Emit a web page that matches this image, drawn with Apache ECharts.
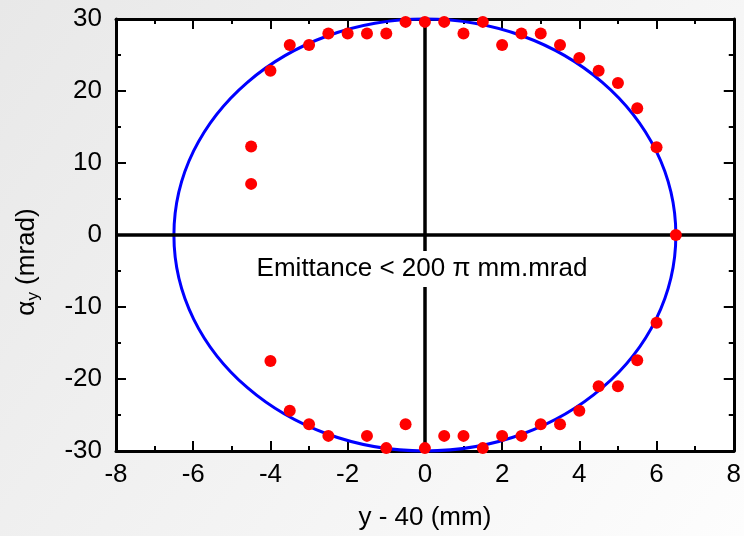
<!DOCTYPE html>
<html>
<head>
<meta charset="utf-8">
<script src="https://cdn.jsdelivr.net/npm/echarts@6/dist/echarts.min.js"></script>
<style>
html, body { margin: 0; padding: 0; }
#main { width: 744px; height: 536px; }
</style>
</head>
<body>
<div id="main"></div>
<script>
// measured beam points (y - 40 in mm, angle in mrad)
var beamX = [-4.5, -4.5, -4, -3.5, -3, -2.5, -2, -1.5, -1, -0.5, 0, 0.5, 1, 1.5, 2, 2.5, 3, 3.5, 4, 4.5, 5, 5.5, 6, 6.5,
             6, 5.5, 5, 4.5, 4, 3.5, 3, 2.5, 2, 1.5, 1, 0.5, 0, -0.5, -1, -1.5, -2.5, -3, -3.5, -4];
var beamY = [12.3, 7.1, 22.8, 26.4, 26.4, 28, 28, 28, 28, 29.6, 29.6, 29.6, 28, 29.6, 26.4, 28, 28, 26.4, 24.6, 22.8, 21.1, 17.6, 12.2, 0,
             -12.2, -17.4, -21, -21, -24.4, -26.3, -26.3, -27.9, -27.9, -29.6, -27.9, -27.9, -29.6, -26.3, -29.6, -27.9, -27.9, -26.3, -24.4, -17.5];
// fitted emittance ellipse: centre and semi-axes
var ellipseFit = [[0, 0, 6.5, 30]];
var noteText = 'Emittance < 200 \u03c0 mm.mrad';

var font = 'Liberation Sans, Arial, sans-serif';
var points = beamX.map(function (x, i) { return [x, beamY[i]]; });

function axisBase(min, max, step) {
    return {
        type: 'value',
        min: min,
        max: max,
        interval: step,
        axisLine: { show: true, onZero: false, lineStyle: { color: '#000', width: 3 } },
        axisTick: { show: true, inside: true, length: 10, lineStyle: { color: '#000', width: 2 } },
        minorTick: { show: true, splitNumber: 2, length: 5, lineStyle: { color: '#000', width: 2 } },
        splitLine: { show: false },
        axisLabel: { color: '#000', fontSize: 26, fontFamily: font }
    };
}

var xBottom = axisBase(-8, 8, 2);
xBottom.position = 'bottom';
xBottom.axisLabel.margin = 11;
xBottom.name = 'y - 40 (mm)';
xBottom.nameLocation = 'middle';
xBottom.nameGap = 54;
xBottom.nameTextStyle = { color: '#000', fontSize: 26, fontFamily: font };

var xTop = axisBase(-8, 8, 2);
xTop.position = 'top';
xTop.axisLabel.show = false;

var yLeft = axisBase(-30, 30, 10);
yLeft.position = 'left';
yLeft.axisLabel.margin = 14;
yLeft.name = '{a|\u03b1}{s|y}{a| (mrad)}';
yLeft.nameLocation = 'middle';
yLeft.nameRotate = 90;
yLeft.nameGap = 74;
yLeft.nameTextStyle = {
    color: '#000',
    fontFamily: font,
    padding: [0, 54, 0, 0],
    rich: {
        a: { fontSize: 26, fontFamily: font, color: '#000' },
        s: { fontSize: 17, fontFamily: font, color: '#000', padding: [13, 0, 0, 0] }
    }
};

var yRight = axisBase(-30, 30, 10);
yRight.position = 'right';
yRight.axisLabel.show = false;

echarts.init(document.getElementById('main')).setOption({
    backgroundColor: {
        type: 'linear', x: 0, y: 0, x2: 1, y2: 1,
        colorStops: [{ offset: 0, color: '#e8e8e8' }, { offset: 1, color: '#fdfdfd' }]
    },
    animation: false,
    grid: { left: 116, right: 9, top: 19, bottom: 84, show: true, backgroundColor: '#fff', borderWidth: 0 },
    xAxis: [xBottom, xTop],
    yAxis: [yLeft, yRight],
    graphic: [{
        type: 'text',
        x: 422,
        y: 269,
        z: 100,
        style: {
            text: noteText,
            font: '26px ' + font,
            fill: '#000',
            align: 'center',
            verticalAlign: 'middle',
            backgroundColor: '#fff',
            padding: [5, 2]
        }
    }],
    series: [{
        type: 'scatter',
        data: [],
        z: 1,
        markLine: {
            silent: true,
            symbol: 'none',
            label: { show: false },
            lineStyle: { color: '#000', width: 3.5, type: 'solid' },
            data: [{ xAxis: 0 }, { yAxis: 0 }]
        }
    }, {
        type: 'custom',
        data: ellipseFit,
        z: 3,
        renderItem: function (params, api) {
            var c = api.coord([api.value(0), api.value(1)]);
            var ex = api.coord([api.value(0) + api.value(2), api.value(1)]);
            var ey = api.coord([api.value(0), api.value(1) + api.value(3)]);
            return {
                type: 'ellipse',
                shape: { cx: c[0], cy: c[1], rx: Math.abs(ex[0] - c[0]), ry: Math.abs(c[1] - ey[1]) },
                style: { fill: 'none', stroke: '#0000ff', lineWidth: 3 }
            };
        }
    }, {
        type: 'scatter',
        data: points,
        symbolSize: 12,
        z: 5,
        itemStyle: { color: '#ff0000', opacity: 1 }
    }]
});
</script>
</body>
</html>
